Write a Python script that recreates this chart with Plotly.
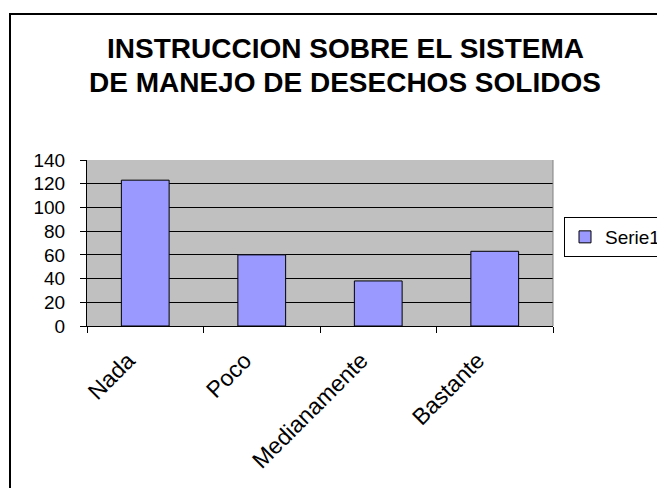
import plotly.graph_objects as go

categories = ["Nada", "Poco", "Medianamente", "Bastante"]
values = [123, 60, 38, 63]
series_name = "Serie1"
title_lines = ["INSTRUCCION SOBRE EL SISTEMA", "DE MANEJO DE DESECHOS SOLIDOS"]
y_ticks = [0, 20, 40, 60, 80, 100, 120, 140]

# page body has an 8px default margin; lay out in page pixels and compensate
OFF = 8
W, H = 665 - OFF, 488 - OFF
L, R, T, B = 87 - OFF, 553 - OFF, 160 - OFF, 326 - OFF

def px_x(p):
    return (p - OFF - L) / (R - L)

def px_y(p):
    return (B - (p - OFF)) / (B - T)

font = "Liberation Sans, Arial, sans-serif"

fig = go.Figure()
fig.add_trace(go.Bar(
    x=categories, y=values, name=series_name,
    marker=dict(color="#9999FF", line=dict(color="black", width=1)),
    width=0.41, showlegend=True,
))

annotations = []
for text, yc in zip(title_lines, [48, 81.5]):
    annotations.append(dict(
        text="<b>" + text + "</b>", xref="paper", yref="paper",
        x=px_x(345), y=px_y(yc + 1), xanchor="center", yanchor="middle",
        showarrow=False, font=dict(family=font, size=28, color="black"),
    ))

fig.update_layout(
    width=W, height=H,
    margin=dict(l=L, r=W - R, t=T, b=H - B, pad=0, autoexpand=False),
    paper_bgcolor="white",
    plot_bgcolor="#C0C0C0",
    font=dict(family=font, size=19, color="black"),
    annotations=annotations,
    showlegend=True,
    legend=dict(
        xref="container", yref="container",
        x=(564 - OFF) / W, y=1 - (217 - OFF) / H, xanchor="left", yanchor="top",
        bordercolor="black", borderwidth=1, bgcolor="white",
        font=dict(family=font, size=19, color="black"),
        itemwidth=30,
    ),
    xaxis=dict(
        type="category", range=[-0.5, 3.5],
        showline=True, linecolor="black", linewidth=1,
        ticks="outside", tickson="boundaries", ticklen=6, tickcolor="black",
        tickangle=-45, showgrid=False, automargin=False,
        ticklabelstandoff=11, ticklabelshift=-17,
        tickfont=dict(family=font, size=23, color="black"),
    ),
    yaxis=dict(
        range=[0, 140], tickvals=y_ticks, ticktext=[str(v) for v in y_ticks],
        showline=True, linecolor="black", linewidth=1,
        ticks="outside", ticklen=6, tickcolor="black", automargin=False,
        ticklabelstandoff=11,
        showgrid=True, gridcolor="black", gridwidth=1, zeroline=False,
        tickfont=dict(family=font, size=19, color="black"),
    ),
    shapes=[
        dict(type="line", xref="paper", yref="paper", x0=1, x1=1, y0=0, y1=1,
             line=dict(color="#808080", width=1)),
        dict(type="rect", xref="paper", yref="paper",
             x0=px_x(10), x1=px_x(720), y0=px_y(14), y1=px_y(540),
             line=dict(color="black", width=2), fillcolor="rgba(0,0,0,0)"),
    ],
)

fig.write_html("out.html")
